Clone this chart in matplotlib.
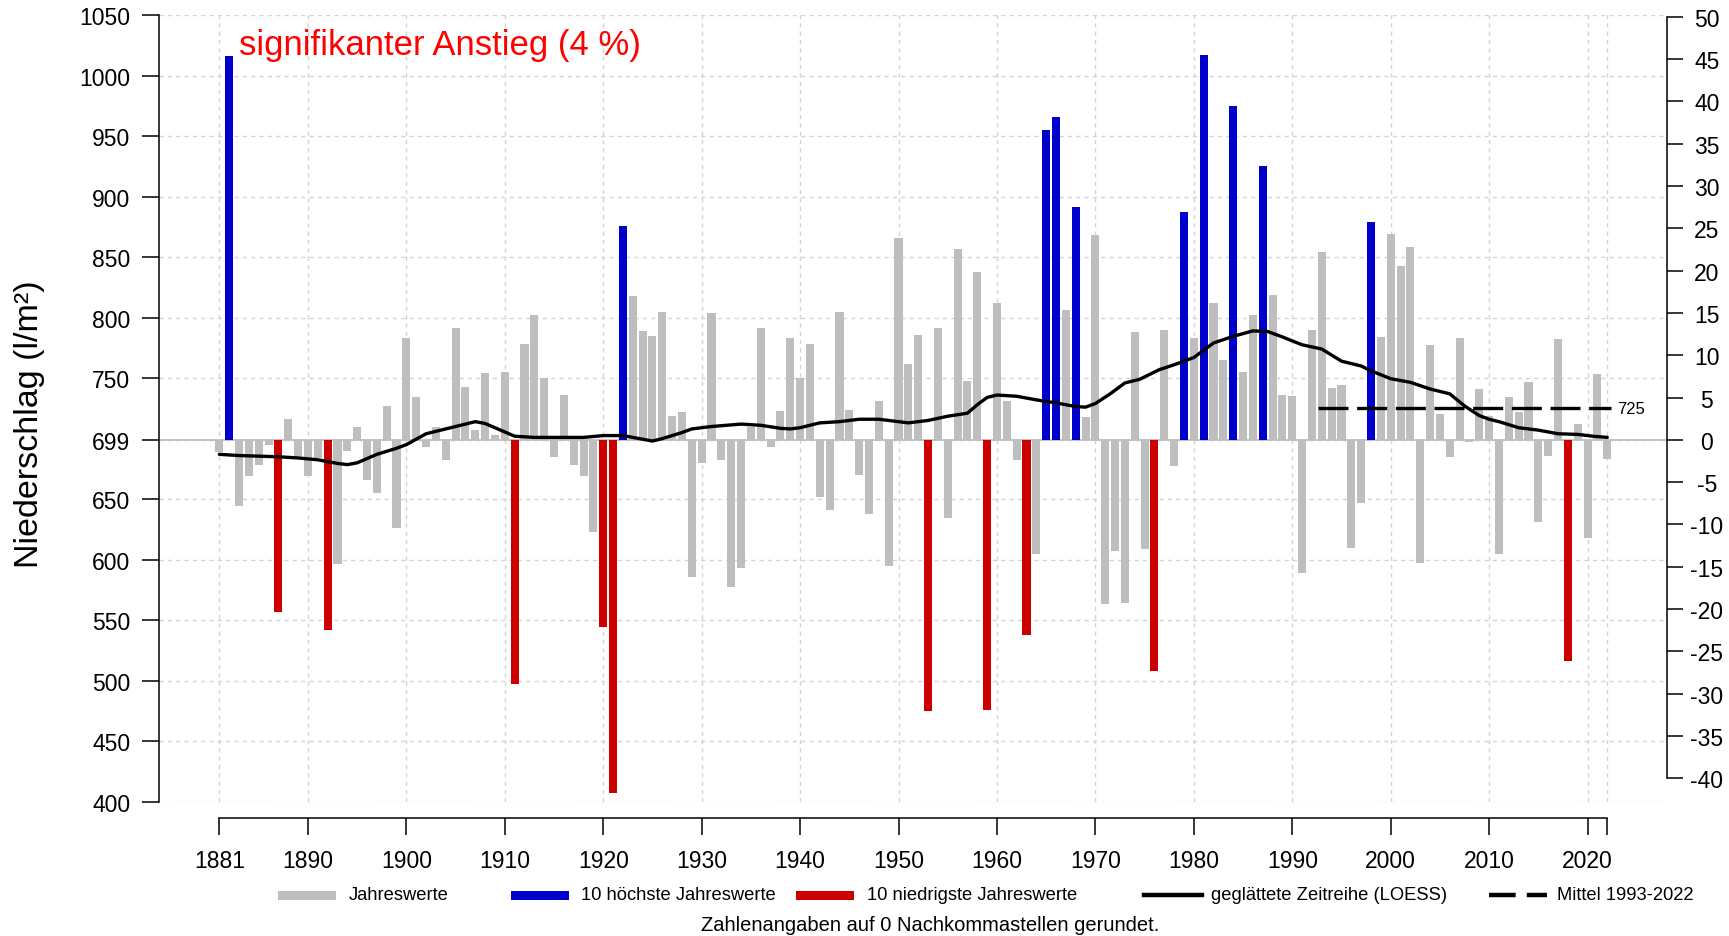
import numpy as np
import matplotlib
matplotlib.use("Agg")
import matplotlib.pyplot as plt
from matplotlib.patches import Rectangle
from matplotlib.lines import Line2D

plt.rcParams['font.family'] = ['Liberation Sans', 'DejaVu Sans']

# Jahreswerte Niederschlag 1881-2022 (l/m²)
years = list(range(1881, 2023))
precip = [
    689, 1016, 644, 669, 678, 695, 557, 716, 683, 669,   # 1881-1890
    684, 542, 596, 690, 710, 666, 655, 727, 626, 783,    # 1891-1900
    734, 693, 710, 682, 791, 743, 707, 754, 703, 755,    # 1901-1910
    497, 778, 802, 750, 685, 736, 678, 669, 623, 544,    # 1911-1920
    407, 876, 818, 789, 785, 805, 719, 722, 586, 680,    # 1921-1930
    804, 682, 577, 593, 710, 791, 693, 723, 783, 750,    # 1931-1940
    778, 652, 641, 805, 724, 670, 638, 731, 595, 866,    # 1941-1950
    762, 786, 475, 791, 634, 857, 748, 838, 476, 812,    # 1951-1960
    731, 682, 538, 605, 955, 966, 806, 891, 718, 868,    # 1961-1970
    563, 607, 564, 788, 609, 508, 790, 677, 887, 783,    # 1971-1980
    1017, 812, 765, 975, 755, 802, 925, 819, 736, 735,   # 1981-1990
    589, 790, 854, 742, 744, 610, 647, 879, 784, 869,    # 1991-2000
    843, 858, 597, 777, 720, 685, 783, 697, 741, 719,    # 2001-2010
    605, 734, 722, 747, 631, 686, 782, 516, 712, 618,    # 2011-2020
    753, 683,                                            # 2021-2022
]

loess_years = [1881, 1883, 1885, 1887, 1889, 1891, 1893, 1894, 1895, 1897,
               1899, 1900, 1902, 1904, 1906, 1907, 1908, 1909, 1911, 1913,
               1915, 1918, 1920, 1922, 1924, 1925, 1926, 1928, 1929, 1931,
               1934, 1936, 1938, 1939, 1940, 1942, 1944, 1946, 1948, 1950,
               1951, 1953, 1955, 1957, 1958, 1959, 1960, 1962, 1964, 1966,
               1968, 1969, 1970, 1971.5, 1973, 1974.5, 1976.5, 1978, 1980, 1982,
               1984, 1986, 1987.5, 1989, 1991, 1993, 1995, 1997, 1998, 2000,
               2002, 2004, 2006, 2007.5, 2009, 2010, 2011, 2013, 2015, 2017,
               2019, 2020.5, 2022]
loess_values = [687, 686, 685.5, 685, 684, 682.5, 679.5, 678.5, 680, 687,
                692, 695, 704, 708, 712, 714, 712.5, 709, 702, 701,
                701, 701, 702.5, 702.5, 699.5, 698, 700, 705, 708, 710,
                712, 711, 708.5, 708, 709, 713, 714, 716, 716, 714,
                713, 715, 718.5, 721, 728, 734, 736, 735, 732, 729.5,
                726.5, 726, 729, 737, 746, 749, 757, 761, 767, 779,
                784.5, 789, 788.5, 784, 777.5, 774, 764, 760, 756, 749.5,
                746.5, 741, 737, 727, 719, 716, 714, 709, 707, 704,
                703.5, 702, 701]

reference = 699
mean_start, mean_end = 1993, 2022
trend_text = "signifikanter Anstieg (4 %)"

left_ticks = [400, 450, 500, 550, 600, 650, 699, 750, 800, 850, 900, 950, 1000, 1050]
right_ticks = list(range(-40, 51, 5))
year_ticks = [1881, 1890, 1900, 1910, 1920, 1930, 1940, 1950, 1960, 1970,
              1980, 1990, 2000, 2010, 2020, 2022]
year_labels = ['1881', '1890', '1900', '1910', '1920', '1930', '1940', '1950',
               '1960', '1970', '1980', '1990', '2000', '2010', '2020', '']

GRAY = '#bebebe'
BLUE = '#0000cd'
RED = '#cd0000'
GRID = '#d3d3d3'

W, H = 1729, 937
fig = plt.figure(figsize=(W / 100, H / 100), dpi=100)
ax = fig.add_axes([159.3 / W, 1 - 802.7 / H, 1508 / W, 786.7 / H])

years_arr = np.array(years)
precip_arr = np.array(precip, dtype=float)

# 10 hoechste und 10 niedrigste Jahreswerte einfaerben
order = np.argsort(precip_arr)
colors = np.array([GRAY] * len(years), dtype=object)
colors[order[-10:]] = BLUE
colors[order[:10]] = RED

ax.bar(years_arr, precip_arr - reference, bottom=reference, width=0.82,
       color=list(colors), zorder=3, linewidth=0)

ax.axhline(reference, color=GRAY, lw=1.3, zorder=2)

ax.plot(loess_years, loess_values, color='black', lw=2.4, zorder=5,
        solid_joinstyle='round', solid_capstyle='round')

# Mittel 1993-2022
sel = (years_arr >= mean_start) & (years_arr <= mean_end)
mean_val = round(precip_arr[sel].mean())
ax.plot([mean_start - 0.4, mean_end + 0.4], [mean_val, mean_val], color='black',
        lw=2.4, dashes=(9, 2.6), zorder=5)
ax.text(mean_end + 1.0, mean_val, f"{mean_val:.0f}", fontsize=12, va='center', ha='left')

ax.set_xlim(1874.9, 2028.1)
ax.set_ylim(400, 1050)

ax.set_yticks(left_ticks)
ax.set_yticklabels([str(t) for t in left_ticks])
ax.set_xticks(year_ticks)
ax.set_xticklabels(year_labels)

ax.grid(True, color=GRID, linestyle=(0, (3, 3)), lw=1)
ax.set_axisbelow(True)

for side in ['top', 'right']:
    ax.spines[side].set_visible(False)
ax.spines['left'].set_bounds(400, 1050)
ax.spines['bottom'].set_position(('outward', 12))
ax.spines['bottom'].set_bounds(1881, 2022)
for side in ['left', 'bottom']:
    ax.spines[side].set_linewidth(1.1)

ax.tick_params(axis='y', length=12, width=1.1, pad=9, labelsize=16.5)
ax.tick_params(axis='x', length=12.2, width=1.1, pad=9.6, labelsize=16.5)

# rechte Achse: Abweichung in %
ax2 = ax.twinx()
ax2.set_ylim((400 / reference - 1) * 100, (1050 / reference - 1) * 100)
ax2.set_yticks(right_ticks)
ax2.set_yticklabels([str(t) for t in right_ticks])
for side in ['left', 'top', 'bottom']:
    ax2.spines[side].set_visible(False)
ax2.spines['right'].set_bounds(-40, 50)
ax2.spines['right'].set_linewidth(1.1)
ax2.tick_params(axis='y', length=11.5, width=1.1, pad=17, labelsize=16.5)
for tick in ax2.yaxis.get_major_ticks():
    tick.label2.set_horizontalalignment('center')

fig.text(30 / W, 1 - 424.5 / H, "Niederschlag (l/m²)", rotation=90,
         fontsize=24.5, va='center', ha='center')

ax.text(0.0529, 0.962, trend_text, transform=ax.transAxes, color='red',
        fontsize=25, va='center', ha='left')

# Legende unten
def fx(px):
    return px / W

def fy(px):
    return 1 - px / H

leg_y = 896
items = [
    ('patch', GRAY, 278, 348.5, "Jahreswerte"),
    ('patch', BLUE, 510.5, 581, "10 höchste Jahreswerte"),
    ('patch', RED, 796, 867, "10 niedrigste Jahreswerte"),
    ('line', 'solid', 1143.5, 1211, "geglättete Zeitreihe (LOESS)"),
    ('line', 'dashed', 1488.7, 1557, "Mittel 1993-2022"),
]
for kind, style, x0, xt, label in items:
    if kind == 'patch':
        fig.add_artist(Rectangle((fx(x0), fy(leg_y + 4.5)), 58 / W, 9 / H,
                                 transform=fig.transFigure, color=style, lw=0))
    else:
        ln = Line2D([fx(x0), fx(x0 + 58)], [fy(leg_y), fy(leg_y)],
                    transform=fig.transFigure, color='black', lw=3.2)
        if style == 'dashed':
            ln.set_dashes((6, 2.5))
        fig.add_artist(ln)
    fig.text(fx(xt), fy(leg_y), label, fontsize=13.2, va='center', ha='left')

fig.text(fx(930), fy(926), "Zahlenangaben auf 0 Nachkommastellen gerundet.",
         fontsize=14.5, va='center', ha='center')

fig.savefig("out.png", dpi=100)
